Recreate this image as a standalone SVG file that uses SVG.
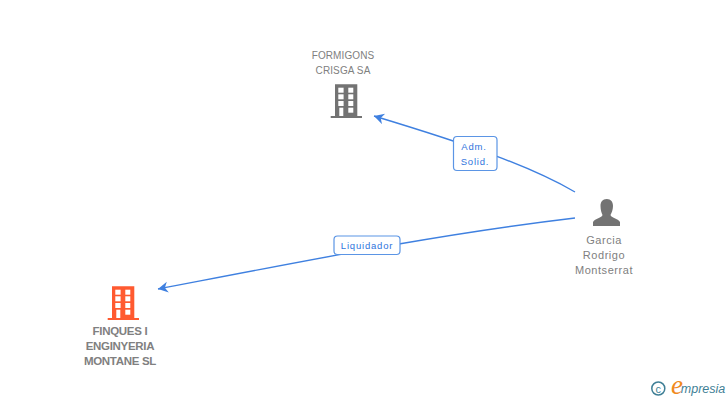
<svg xmlns="http://www.w3.org/2000/svg" width="728" height="400" viewBox="0 0 728 400">
<style>
text{font-family:"Liberation Sans",Arial,sans-serif;text-anchor:middle}
.u{font-size:10px;fill:#808080;letter-spacing:.1px}
.n{font-size:11px;fill:#808080;letter-spacing:.55px}
.b{font-size:11.5px;fill:#808080;font-weight:bold;letter-spacing:-.3px}
.l{font-size:9.500px;fill:#2f74dd;letter-spacing:.8px}
.c{fill:none;stroke:#3f80e0;stroke-width:1.400}
.box{fill:#fff;stroke:#5b95e5;stroke-width:1.200}
.win{fill:#fff}
</style>
<defs>
<marker id="a" markerWidth="14" markerHeight="14" refX="10" refY="5.500" orient="auto" markerUnits="userSpaceOnUse"><path d="M10 5.500L0 0L3 5.500L0 11Z" fill="#3f80e0"/></marker>
<g id="bld">
<path d="M3 -.7H25.300V31H30V33H-1.300V31H3Z"/>
<g class="win">
<rect x="6.300" y="2.700" width="5.300" height="5"/><rect x="16.300" y="2.700" width="5" height="5"/>
<rect x="6.300" y="9.300" width="5.300" height="5"/><rect x="16.300" y="9.300" width="5" height="5"/>
<rect x="6.300" y="16" width="5.300" height="5"/><rect x="16.300" y="16" width="5" height="5"/>
<rect x="7.300" y="22.700" width="4" height="8.300"/><rect x="16.300" y="22.700" width="5" height="5"/>
</g>
</g>
</defs>
<g id="connectors">
<path class="c" marker-end="url(#a)" d="M575 192C530 166 470 145 374 116"/>
<path class="c" marker-end="url(#a)" d="M575 218C440 234 320 258 158 289"/>
</g>
<g id="edge-adm">
<rect class="box" x="453.500" y="136.500" width="43.500" height="34" rx="3.500"/>
<text class="l" x="474" y="150">Adm.</text>
<text class="l" x="475" y="165">Solid.</text>
</g>
<g id="edge-liq">
<rect class="box" x="334" y="236" width="66" height="18.500" rx="3.500"/>
<text class="l" x="367" y="249">Liquidador</text>
</g>
<g id="formigons">
<use href="#bld" x="332" y="85" fill="#737373"/>
<text class="u" x="343" y="59">FORMIGONS</text>
<text class="u" x="343" y="74">CRISGA SA</text>
</g>
<g id="finques">
<use href="#bld" x="109" y="287" fill="#ff5a30"/>
<text class="b" x="120" y="335">FINQUES I</text>
<text class="b" x="120" y="350">ENGINYERIA</text>
<text class="b" x="120" y="365">MONTANE SL</text>
</g>
<g id="garcia">
<path fill="#737373" d="M606.800 199C611 199 613 202 613 206C613 210 611.500 213 610.500 215C611 218 618 218.500 620 222V226H593V222C595 218.500 602 218 602.500 215C601.500 213 600.500 210 600.500 206C600.500 202 602.500 199 606.800 199Z"/>
<text class="n" x="604" y="244">Garcia</text>
<text class="n" x="604" y="259">Rodrigo</text>
<text class="n" x="604" y="274">Montserrat</text>
</g>
<g id="logo">
<circle cx="658.300" cy="388.500" r="6.500" fill="none" stroke="#3f7f96" stroke-width="1.500"/>
<text x="658.300" y="392.500" style="font-size:11px;fill:#3f7f96">c</text>
<text x="677" y="394" style="font-family:'Liberation Serif',serif;font-size:27px;font-style:italic;fill:#f08a1d">e</text>
<text x="703" y="393" style="font-size:12.500px;font-style:italic;fill:#3f7f96">mpresia</text>
</g>
</svg>
